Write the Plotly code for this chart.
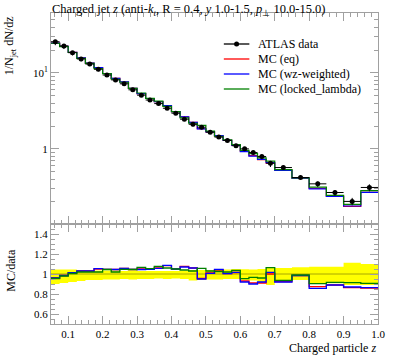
import plotly.graph_objects as go

# ---- data ----
edges = [0.05, 0.075, 0.1, 0.125, 0.15, 0.175, 0.2, 0.225, 0.25, 0.275, 0.3,
         0.325, 0.35, 0.375, 0.4, 0.425, 0.45, 0.475, 0.5, 0.525, 0.55, 0.575,
         0.6, 0.625, 0.65, 0.675, 0.7, 0.75, 0.8, 0.85, 0.9, 0.95, 1.0]

data = [25.8, 22.7, 18.5, 15.3, 13.1, 11.2, 9.4, 8.1, 7.2, 6.0, 5.1, 4.4,
        3.95, 3.43, 2.95, 2.46, 2.11, 1.93, 1.66, 1.43, 1.29, 1.10, 1.0,
        0.894, 0.792, 0.648, 0.567, 0.419, 0.346, 0.266, 0.203, 0.310]

band_lo = [0.90, 0.91, 0.92, 0.93, 0.94, 0.94, 0.945, 0.945, 0.95, 0.945, 0.95,
           0.95, 0.955, 0.95, 0.955, 0.95, 0.935, 0.94, 0.945, 0.945, 0.95,
           0.95, 0.94, 0.935, 0.92, 0.89, 0.94, 0.94, 0.907, 0.907, 0.89, 0.89]
band_hi = [1.045, 1.045, 1.045, 1.04, 1.035, 1.035, 1.035, 1.035, 1.03, 1.035,
           1.03, 1.03, 1.03, 1.03, 1.03, 1.035, 1.04, 1.04, 1.04, 1.045, 1.045,
           1.05, 1.047, 1.045, 1.05, 1.067, 1.06, 1.067, 1.073, 1.073, 1.113, 1.10]

ratio_eq = [0.96, 0.985, 1.013, 1.03, 1.03, 1.05, 1.047, 1.045, 1.055, 1.045,
            1.05, 1.047, 1.06, 1.083, 1.05, 1.077, 1.06, 0.955, 1.01, 1.04,
            1.005, 1.015, 0.93, 0.91, 0.91, 1.0, 0.925, 0.985, 0.873, 0.89,
            0.863, 0.86]
ratio_wz = [0.96, 0.985, 1.013, 1.03, 1.03, 1.053, 1.047, 1.045, 1.057, 1.047,
            1.045, 1.047, 1.057, 1.087, 1.05, 1.07, 1.06, 0.95, 1.007, 1.047,
            1.003, 1.017, 0.92, 0.90, 0.92, 1.017, 0.92, 0.985, 0.857, 0.89,
            0.87, 0.863]
ratio_ll = [0.955, 0.98, 1.005, 1.02, 1.02, 1.02, 1.045, 1.02, 1.047, 1.045,
            1.067, 1.053, 1.077, 1.06, 1.05, 1.04, 1.03, 1.057, 1.03, 1.025,
            1.02, 1.037, 0.953, 0.967, 0.96, 1.063, 0.937, 0.99, 0.903, 0.917,
            0.913, 0.907]

legend_names = ["ATLAS data", "MC (eq)", "MC (wz-weighted)", "MC (locked_lambda)"]
mc_colors = ["#ff0000", "#0000ff", "#008000"]

# ---- derived ----
centers = [(a + b) / 2 for a, b in zip(edges[:-1], edges[1:])]
halfw = [(b - a) / 2 for a, b in zip(edges[:-1], edges[1:])]
err_up = [d * (h - 1) for d, h in zip(data, band_hi)]
err_dn = [d * (1 - l) for d, l in zip(data, band_lo)]
mc_ratios = [ratio_eq, ratio_wz, ratio_ll]

def step(vals):
    return list(vals) + [vals[-1]]

fig = go.Figure()

# main panel MC histograms
for r, c, n in zip(mc_ratios, mc_colors, legend_names[1:]):
    mc = [ri * d for ri, d in zip(r, data)]
    fig.add_trace(go.Scatter(x=edges, y=step(mc), mode="lines", line_shape="hv",
                             line=dict(color=c, width=1.2), name=n,
                             xaxis="x", yaxis="y", hoverinfo="skip"))

# data points
fig.add_trace(go.Scatter(x=centers, y=data, mode="markers",
                         marker=dict(color="black", size=5),
                         error_x=dict(type="data", array=halfw, color="black",
                                      thickness=1, width=0),
                         error_y=dict(type="data", array=err_up, arrayminus=err_dn,
                                      symmetric=False, color="black",
                                      thickness=1, width=0),
                         name=legend_names[0], xaxis="x", yaxis="y"))

# ratio panel band
fig.add_trace(go.Scatter(x=edges, y=step(band_lo), mode="lines", line_shape="hv",
                         line=dict(width=0, color="#ffff00"), xaxis="x2", yaxis="y2",
                         hoverinfo="skip"))
fig.add_trace(go.Scatter(x=edges, y=step(band_hi), mode="lines", line_shape="hv",
                         line=dict(width=0, color="#ffff00"), fill="tonexty",
                         fillcolor="#ffff00", xaxis="x2", yaxis="y2",
                         hoverinfo="skip"))
# reference line at 1
fig.add_trace(go.Scatter(x=[edges[0], edges[-1]], y=[1, 1], mode="lines",
                         line=dict(color="#a8a800", width=1), xaxis="x2", yaxis="y2",
                         hoverinfo="skip"))
for r, c in zip(mc_ratios, mc_colors):
    fig.add_trace(go.Scatter(x=edges, y=step(r), mode="lines", line_shape="hv",
                             line=dict(color=c, width=1.3), xaxis="x2", yaxis="y2",
                             hoverinfo="skip"))

axcol = "#a0a0a0"
common = dict(showline=True, linecolor=axcol, linewidth=1, mirror="ticks",
              ticks="inside", tickcolor=axcol, ticklen=8, tickwidth=1,
              showgrid=False, zeroline=False,
              tickfont=dict(family="Liberation Serif", size=11, color="black"))

split = 100 / 311

fig.update_layout(
    width=397, height=358,
    margin=dict(l=51, r=13, t=13, b=34),
    plot_bgcolor="white", paper_bgcolor="white",
    showlegend=False,
    font=dict(family="Liberation Serif", size=12, color="black"),
    xaxis=dict(domain=[0, 1], anchor="y", range=[0.05, 1.0], dtick=0.1, tick0=0,
               showticklabels=False,
               minor=dict(ticks="inside", ticklen=4, tickcolor=axcol, dtick=0.02,
                          tick0=0, showgrid=False),
               **common),
    yaxis=dict(domain=[split, 1], anchor="x", type="log", range=[-0.99, 1.79],
               tickvals=[1, 10], ticktext=["1", "10<sup>1</sup>"],
               minor=dict(ticks="inside", ticklen=4, tickcolor=axcol,
                          tickvals=[0.2, 0.3, 0.4, 0.5, 0.6, 0.7, 0.8, 0.9,
                                    2, 3, 4, 5, 6, 7, 8, 9, 20, 30, 40, 50, 60],
                          showgrid=False),
               **common),
    xaxis2=dict(domain=[0, 1], anchor="y2", range=[0.05, 1.0], matches="x",
                tickvals=[0.1, 0.2, 0.3, 0.4, 0.5, 0.6, 0.7, 0.8, 0.9, 1.0],
                ticktext=["0.1", "0.2", "0.3", "0.4", "0.5", "0.6", "0.7", "0.8", "0.9", "1.0"],
                minor=dict(ticks="inside", ticklen=4, tickcolor=axcol, dtick=0.02,
                           tick0=0, showgrid=False),
                **common),
    yaxis2=dict(domain=[0, split], anchor="x2", range=[0.5, 1.5],
                tickvals=[0.6, 0.8, 1.0, 1.2, 1.4],
                ticktext=["0.6", "0.8", "1", "1.2", "1.4"],
                minor=dict(ticks="inside", ticklen=4, tickcolor=axcol, dtick=0.05,
                           tick0=0, showgrid=False),
                **common),
)

def px(xp):
    return (xp - 51) / 333

def py(yp):
    return (324 - yp) / 311

annots = [
    dict(text="Charged jet <i>z</i> (anti-<i>k</i><sub><i>t</i></sub>, R = 0.4, <i>y</i> 1.0-1.5, <i>p</i><sub>⊥</sub> 10.0-15.0)",
         x=px(50), y=py(10), xanchor="left", yanchor="middle", font=dict(size=12.5)),
    dict(text="1/N<sub>jet</sub> dN/dz", x=px(10), y=py(14), xanchor="center",
         yanchor="top", textangle=-90, font=dict(size=12)),
    dict(text="MC/data", x=px(10), y=py(270), xanchor="center", yanchor="middle",
         textangle=-90, font=dict(size=12)),
    dict(text="Charged particle <i>z</i>", x=px(384), y=py(348), xanchor="right",
         yanchor="middle", font=dict(size=12)),
]
shapes = []
leg_y = [44, 59, 74, 89]
leg_cols = ["black"] + mc_colors
for name, yy, col in zip(legend_names, leg_y, leg_cols):
    annots.append(dict(text=name, x=px(260), y=py(yy), xanchor="left",
                       yanchor="middle", font=dict(size=12)))
    shapes.append(dict(type="line", xref="paper", yref="paper", x0=px(227), x1=px(253),
                       y0=py(yy), y1=py(yy), line=dict(color=col, width=1.3)))
shapes.append(dict(type="circle", xref="paper", yref="paper", xsizemode="pixel",
                   ysizemode="pixel", xanchor=px(240), yanchor=py(leg_y[0]),
                   x0=-2.5, x1=2.5, y0=-2.5, y1=2.5, fillcolor="black",
                   line=dict(color="black", width=0)))
for a in annots:
    a.update(xref="paper", yref="paper", showarrow=False)
fig.update_layout(annotations=annots, shapes=shapes)

fig.write_html("out.html", config={"displayModeBar": False},
               post_script=["document.body.style.margin='0';document.body.style.overflow='hidden';"])
